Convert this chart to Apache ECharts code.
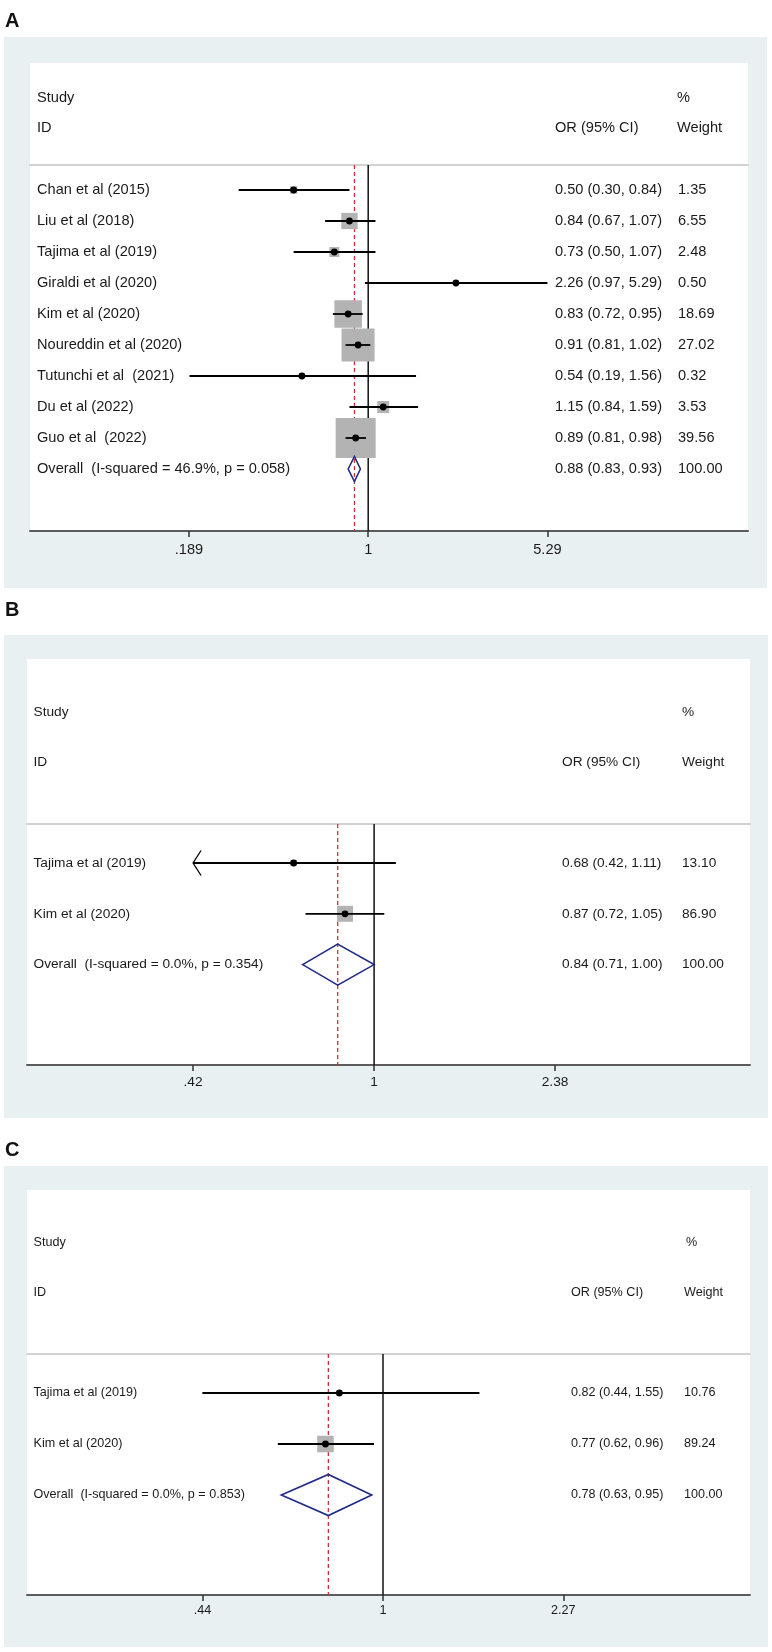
<!DOCTYPE html>
<html><head><meta charset="utf-8">
<script src="https://cdn.jsdelivr.net/npm/echarts@6/dist/echarts.min.js"></script>
<style>html,body{margin:0;padding:0;background:#fff}#c{width:772px;height:1652px}</style>
</head><body><div id="c"></div>
<script>
// ---------- DATA ----------
// Panel A
const studiesA = ['Chan et al (2015)', 'Liu et al (2018)', 'Tajima et al (2019)', 'Giraldi et al (2020)', 'Kim et al (2020)', 'Noureddin et al (2020)', 'Tutunchi et al  (2021)', 'Du et al (2022)', 'Guo et al  (2022)'];
const orA     = [0.50, 0.84, 0.73, 2.26, 0.83, 0.91, 0.54, 1.15, 0.89];
const lowA    = [0.30, 0.67, 0.50, 0.97, 0.72, 0.81, 0.19, 0.84, 0.81];
const highA   = [0.84, 1.07, 1.07, 5.29, 0.95, 1.02, 1.56, 1.59, 0.98];
const weightA = [1.35, 6.55, 2.48, 0.50, 18.69, 27.02, 0.32, 3.53, 39.56];
const clipLowA = [0, 0, 0, 0, 0, 0, 0, 0, 0];
const overallNameA = 'Overall  (I-squared = 46.9%, p = 0.058)';
const overallA = [0.88, 0.83, 0.93];
const overallWeightA = 100.00;
const ticksA = [0.189, 1, 5.29];
const tickLabelsA = ['.189', '1', '5.29'];

// Panel B
const studiesB = ['Tajima et al (2019)', 'Kim et al (2020)'];
const orB     = [0.68, 0.87];
const lowB    = [0.42, 0.72];
const highB   = [1.11, 1.05];
const weightB = [13.10, 86.90];
const clipLowB = [1, 0];
const overallNameB = 'Overall  (I-squared = 0.0%, p = 0.354)';
const overallB = [0.84, 0.71, 1.00];
const overallWeightB = 100.00;
const ticksB = [0.42, 1, 2.38];
const tickLabelsB = ['.42', '1', '2.38'];

// Panel C
const studiesC = ['Tajima et al (2019)', 'Kim et al (2020)'];
const orC     = [0.82, 0.77];
const lowC    = [0.44, 0.62];
const highC   = [1.55, 0.96];
const weightC = [10.76, 89.24];
const clipLowC = [0, 0];
const overallNameC = 'Overall  (I-squared = 0.0%, p = 0.853)';
const overallC = [0.78, 0.63, 0.95];
const overallWeightC = 100.00;
const ticksC = [0.44, 1, 2.27];
const tickLabelsC = ['.44', '1', '2.27'];

const headStudy = 'Study', headID = 'ID', headOR = 'OR (95% CI)', headPct = '%', headW = 'Weight';

// ---------- STYLE / LAYOUT ----------
const FONT = '"Liberation Sans", Arial, Helvetica, sans-serif';
const panels = [
  { key:'A', studies:studiesA, or:orA, lo:lowA, hi:highA, w:weightA, clip:clipLowA, ovName:overallNameA, ov:overallA, ovW:overallWeightA, ticks:ticksA, tickLabels:tickLabelsA,
    label:'A', labelY:21, outer:[4,37,763,551], inner:[30,63,718,468],
    gridTop:165, gridBottom:531, left:30, right:748, one:368.2, ppl:107.6,
    row0:190, rowH:31, nameX:37, orX:555, wX:678, pctX:677, orHX:555, wHX:677, headY:[98,128],
    font:14.6, box:6.36, diamH:12.5, tickMargin:11 },
  { key:'B', studies:studiesB, or:orB, lo:lowB, hi:highB, w:weightB, clip:clipLowB, ovName:overallNameB, ov:overallB, ovW:overallWeightB, ticks:ticksB, tickLabels:tickLabelsB,
    label:'B', labelY:610, outer:[4,635,764,483], inner:[27,659,723,406],
    gridTop:824, gridBottom:1065, left:27, right:750, one:374.1, ppl:208.7,
    row0:863, rowH:50.8, nameX:33.5, orX:562, wX:682, pctX:682, orHX:562, wHX:682, headY:[712,762],
    font:13.7, box:1.72, diamH:20.5, tickMargin:10 },
  { key:'C', studies:studiesC, or:orC, lo:lowC, hi:highC, w:weightC, clip:clipLowC, ovName:overallNameC, ov:overallC, ovW:overallWeightC, ticks:ticksC, tickLabels:tickLabelsC,
    label:'C', labelY:1150, outer:[4,1166,764,481], inner:[27,1190,723,405],
    gridTop:1354, gridBottom:1595, left:27, right:750, one:383.0, ppl:220.0,
    row0:1393, rowH:51, nameX:33.5, orX:571, wX:684, pctX:686, orHX:571, wHX:684, headY:[1243,1293],
    font:12.6, box:1.75, diamH:20.5, tickMargin:9.5 }
];

const fmt = v => v.toFixed(2);

const grids = [], xAxes = [], yAxes = [], series = [], graphics = [];

panels.forEach((p, idx) => {
  graphics.push({ type:'rect', z:-20, silent:true, shape:{x:p.outer[0], y:p.outer[1], width:p.outer[2], height:p.outer[3]}, style:{fill:'#e8f0f2'} });
  graphics.push({ type:'rect', z:-19, silent:true, shape:{x:p.inner[0], y:p.inner[1], width:p.inner[2], height:p.inner[3]}, style:{fill:'#ffffff'} });
  graphics.push({ type:'text', z:10, silent:true, style:{ text:p.label, x:5, y:p.labelY, font:'bold 20px '+FONT, fill:'#111', align:'left', verticalAlign:'middle', textAlign:'left', textVerticalAlign:'middle' } });
  const hdr = (t, x, y) => graphics.push({ type:'text', z:10, silent:true, style:{ text:t, x:x, y:y, font:p.font+'px '+FONT, fill:'#1a1a1a', align:'left', verticalAlign:'middle', textAlign:'left', textVerticalAlign:'middle' } });
  hdr(headStudy, p.nameX, p.headY[0]);
  hdr(headID, p.nameX, p.headY[1]);
  hdr(headPct, p.pctX, p.headY[0]);
  hdr(headOR, p.orHX, p.headY[1]);
  hdr(headW, p.wHX, p.headY[1]);

  const n = p.studies.length;
  const xmin = (p.left - p.one) / p.ppl, xmax = (p.right - p.one) / p.ppl;
  const ymin = (p.gridTop - p.row0) / p.rowH, ymax = (p.gridBottom - p.row0) / p.rowH;

  grids.push({ left:p.left, width:p.right - p.left, top:p.gridTop, height:p.gridBottom - p.gridTop, containLabel:false });

  const tickVals = p.ticks.map(Math.log);
  xAxes.push({ gridIndex:idx, type:'value', position:'bottom', min:xmin, max:xmax,
    axisLine:{ show:true, onZero:false, lineStyle:{ color:'#5c5c5c', width:2 } },
    axisTick:{ show:true, customValues:tickVals, length:6, lineStyle:{ color:'#333', width:1.5 } },
    axisLabel:{ show:true, customValues:tickVals, margin:p.tickMargin, fontSize:p.font, fontFamily:FONT, color:'#1a1a1a',
      formatter: v => { let best = 0; tickVals.forEach((t,i)=>{ if (Math.abs(t-v) < Math.abs(tickVals[best]-v)) best = i; }); return p.tickLabels[best]; } },
    splitLine:{ show:false } });
  xAxes.push({ gridIndex:idx, type:'value', position:'top', min:xmin, max:xmax,
    axisLine:{ show:true, onZero:false, lineStyle:{ color:'#d2d2d2', width:2 } },
    axisTick:{ show:false }, axisLabel:{ show:false }, splitLine:{ show:false } });

  const rowNames = p.studies.concat([p.ovName]);
  const rowOR = p.or.map((v,i)=> fmt(v)+' ('+fmt(p.lo[i])+', '+fmt(p.hi[i])+')').concat([fmt(p.ov[0])+' ('+fmt(p.ov[1])+', '+fmt(p.ov[2])+')']);
  const rowW = p.w.map(fmt).concat([fmt(p.ovW)]);
  const rowIdx = rowNames.map((_, i) => i);
  const txt = { fontSize:p.font, fontFamily:FONT, color:'#1a1a1a' };
  yAxes.push({ gridIndex:idx, type:'value', inverse:true, min:ymin, max:ymax, position:'left',
    axisLine:{ show:false, onZero:false }, axisTick:{ show:false }, splitLine:{ show:false },
    axisLabel:{ show:true, inside:true, customValues:rowIdx, margin:p.nameX - p.left, fontSize:p.font, fontFamily:FONT, color:'#1a1a1a',
      formatter: v => { const i = Math.round(v); return '{n|'+rowNames[i]+'}{o|'+rowOR[i]+'}{w|'+rowW[i]+'}'; },
      rich:{ n:Object.assign({ width:p.orX - p.nameX }, txt), o:Object.assign({ width:p.wX - p.orX }, txt), w:Object.assign({}, txt) } } });

  const xA = idx*2, yA = idx;

  series.push({ type:'custom', xAxisIndex:xA, yAxisIndex:yA, z:1, silent:true,
    data:[[0, 0], [Math.log(p.ov[0]), 1]],
    renderItem:(params, api) => {
      const x = api.coord([api.value(0), 0])[0];
      const cs = params.coordSys;
      const dashed = api.value(1) === 1;
      return { type:'line', shape:{ x1:x, y1:cs.y, x2:x, y2:cs.y + cs.height },
        style:{ stroke: dashed ? '#c9333d' : '#111', lineWidth: dashed ? 1.3 : 1.5, lineDash: dashed ? [4,3] : null } };
    } });

  const sData = p.studies.map((s, i) => [Math.log(p.or[i]), i, Math.log(p.lo[i]), Math.log(p.hi[i]), p.w[i], p.clip[i]]);
  series.push({ type:'custom', xAxisIndex:xA, yAxisIndex:yA, z:3, silent:true, data:sData,
    encode:{ x:[0,2,3], y:1 },
    renderItem:(params, api) => {
      const row = api.value(1);
      const c = api.coord([api.value(0), row]);
      const lo = api.coord([api.value(2), row])[0];
      const hi = api.coord([api.value(3), row])[0];
      const s = p.box * Math.sqrt(api.value(4));
      const ch = [
        { type:'rect', shape:{ x:c[0]-s/2, y:c[1]-s/2, width:s, height:s }, style:{ fill:'#b3b3b3' } },
        { type:'line', shape:{ x1:lo, y1:c[1], x2:hi, y2:c[1] }, style:{ stroke:'#000', lineWidth:1.8 } },
        { type:'circle', shape:{ cx:c[0], cy:c[1], r:3.4 }, style:{ fill:'#000' } }
      ];
      if (api.value(5)) ch.push({ type:'polyline', shape:{ points:[[lo+8, c[1]-12.5], [lo, c[1]], [lo+8, c[1]+12.5]] }, style:{ stroke:'#000', lineWidth:1.3, fill:'none' } });
      return { type:'group', children:ch };
    } });

  series.push({ type:'custom', xAxisIndex:xA, yAxisIndex:yA, z:4, silent:true,
    data:[[Math.log(p.ov[0]), n, Math.log(p.ov[1]), Math.log(p.ov[2])]],
    encode:{ x:[0,2,3], y:1 },
    renderItem:(params, api) => {
      const row = api.value(1);
      const c = api.coord([api.value(0), row]);
      const lo = api.coord([api.value(2), row])[0];
      const hi = api.coord([api.value(3), row])[0];
      const h = p.diamH;
      return { type:'polygon', shape:{ points:[[lo, c[1]], [c[0], c[1]-h], [hi, c[1]], [c[0], c[1]+h]] },
        style:{ fill:'none', stroke:'#1f2a86', lineWidth:1.6 } };
    } });
});

const chart = echarts.init(document.getElementById('c'), null, { renderer:'canvas', width:772, height:1652 });
chart.setOption({
  animation:false,
  backgroundColor:'#ffffff',
  grid:grids, xAxis:xAxes, yAxis:yAxes, series:series,
  graphic:{ elements:graphics }
});
</script>
</body></html>
